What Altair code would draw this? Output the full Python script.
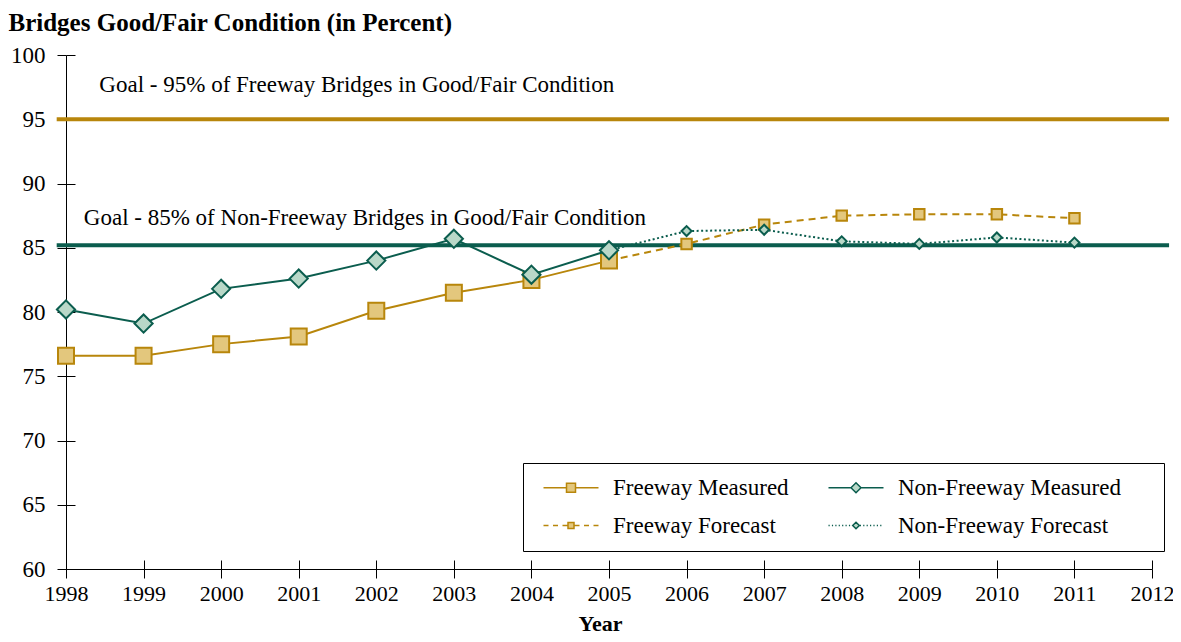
import altair as alt
import pandas as pd

# ---------------- data ----------------
years_measured = [1998, 1999, 2000, 2001, 2002, 2003, 2004, 2005]
freeway_measured = [76.6, 76.6, 77.5, 78.1, 80.1, 81.5, 82.5, 84.0]
nonfreeway_measured = [80.2, 79.1, 81.8, 82.6, 84.0, 85.7, 82.9, 84.8]

years_forecast = [2005, 2006, 2007, 2008, 2009, 2010, 2011]
freeway_forecast = [84.0, 85.3, 86.8, 87.5, 87.6, 87.6, 87.3]
nonfreeway_forecast = [84.8, 86.3, 86.4, 85.5, 85.3, 85.8, 85.4]

goal_values = [95.0, 85.2]
goal_labels = [
    "Goal - 95% of Freeway Bridges in Good/Fair Condition",
    "Goal - 85% of Non-Freeway Bridges in Good/Fair Condition",
]
goal_label_year = [1998.43, 1998.23]
goal_label_value = [97.1, 86.8]
goal_span = [1997.88, 2012.22]

# legend order: column 1 = Freeway, column 2 = Non-Freeway
series_names = ["Freeway Measured", "Freeway Forecast",
                "Non-Freeway Measured", "Non-Freeway Forecast"]

x_ticks = list(range(1998, 2013))
y_ticks = list(range(60, 101, 5))

# ---------------- styles ----------------
FONT = "Liberation Serif"
GOLD = "#B8860B"
GOLD_FILL = "#E3C77D"
TEAL = "#0B5D4E"
TEAL_FILL = "#B9D8C8"

meas = pd.DataFrame({"year": years_measured, "freeway": freeway_measured,
                     "nonfreeway": nonfreeway_measured})
fc = pd.DataFrame({"year": years_forecast, "freeway": freeway_forecast,
                   "nonfreeway": nonfreeway_forecast})
fc_pts = fc[fc["year"] > 2005]
goals = pd.DataFrame({"value": goal_values, "label": goal_labels,
                      "lx": goal_label_year, "ly": goal_label_value,
                      "x0": goal_span[0], "x1": goal_span[1]})
legend_df = pd.DataFrame({"series": series_names, "year": 2000, "value": 70})

xscale = alt.Scale(domain=[1998, 2012], nice=False, zero=False)
yscale = alt.Scale(domain=[60, 100], nice=False, zero=False)

axis_x_main = alt.Axis(values=x_ticks, format="d", labelFontSize=22, labelFont=FONT,
                       labelPadding=5, labelColor="black", labelFlush=False,
                       labelOverlap=False, tickSize=9, tickColor="black",
                       domainColor="black", grid=False, title="Year", titleFont=FONT,
                       titleFontSize=22, titleFontWeight="bold", titleColor="black",
                       titleX=534, titleY=61, titleBaseline="alphabetic", orient="bottom")
axis_x_in = alt.Axis(values=x_ticks, labels=False, domain=False, tickSize=9,
                     tickColor="black", offset=-9, grid=False, title=None, orient="bottom")
axis_y_main = alt.Axis(values=y_ticks, labelFontSize=23, labelFont=FONT, labelPadding=12,
                       labelColor="black", labelFlush=False, labelOverlap=False,
                       tickSize=9, tickColor="black",
                       domainColor="black", grid=False,
                       title="Bridges Good/Fair Condition (in Percent)", titleFont=FONT,
                       titleFontSize=25, titleFontWeight="bold", titleColor="black",
                       titleAngle=0, titleAlign="left", titleBaseline="alphabetic",
                       titleX=-58, titleY=-25, orient="left")
axis_y_in = alt.Axis(values=y_ticks, labels=False, domain=False, tickSize=9,
                     tickColor="black", offset=-9, grid=False, title=None, orient="left")


def X(field, axis=None):
    return alt.X(field, type="quantitative", scale=xscale, axis=axis)


def Y(field, axis=None):
    return alt.Y(field, type="quantitative", scale=yscale, axis=axis)


# goal lines
goal_rules = alt.Chart(goals).mark_rule(strokeWidth=4).encode(
    x=X("x0"), x2="x1", y=Y("value"),
    stroke=alt.condition(alt.datum.value > 90, alt.value(GOLD), alt.value(TEAL)),
)
goal_text = alt.Chart(goals).mark_text(align="left", baseline="alphabetic", font=FONT,
                                       fontSize=23, color="black").encode(
    x=X("lx", axis_x_in), y=Y("ly", axis_y_in), text="label:N")

# freeway
fw_line = alt.Chart(meas).mark_line(color=GOLD, strokeWidth=2).encode(
    x=X("year", axis_x_main), y=Y("freeway", axis_y_main))
fw_fc_line = alt.Chart(fc).mark_line(color=GOLD, strokeWidth=2, strokeDash=[7, 5]).encode(
    x=X("year"), y=Y("freeway"))
fw_pts = alt.Chart(meas).mark_point(shape="square", size=256, filled=True, fill=GOLD_FILL,
                                    stroke=GOLD, strokeWidth=2, opacity=1).encode(
    x=X("year"), y=Y("freeway"))
fw_fc_pts = alt.Chart(fc_pts).mark_point(shape="square", size=110, filled=True,
                                         fill=GOLD_FILL, stroke=GOLD, strokeWidth=2,
                                         opacity=1).encode(x=X("year"), y=Y("freeway"))

# non-freeway
nf_line = alt.Chart(meas).mark_line(color=TEAL, strokeWidth=2).encode(
    x=X("year"), y=Y("nonfreeway"))
nf_fc_line = alt.Chart(fc).mark_line(color=TEAL, strokeWidth=2, strokeDash=[2, 2.5]).encode(
    x=X("year"), y=Y("nonfreeway"))
nf_pts = alt.Chart(meas).mark_point(shape="diamond", size=330, filled=True, fill=TEAL_FILL,
                                    stroke=TEAL, strokeWidth=2, opacity=1).encode(
    x=X("year"), y=Y("nonfreeway"))
nf_fc_pts = alt.Chart(fc_pts).mark_point(shape="diamond", size=100, filled=True,
                                         fill=TEAL_FILL, stroke=TEAL, strokeWidth=2,
                                         opacity=1).encode(x=X("year"), y=Y("nonfreeway"))


# ---------------- legend symbols (line + marker drawn as custom paths) ----------------
def segs(x0, x1, on, off):
    out, x = [], x0
    while x < x1 - 1e-6:
        e = min(x + on, x1)
        out.append(f"M{x:.3f},0H{e:.3f}")
        x = e + off
    return "".join(out)


def sym(kind, h, on, off, reach=None):
    a, b, c = -0.4, 5.1, 2.35
    line = segs(a, c - h - 0.05, on, off) + segs(c + h + 0.05, b, on, off)
    if kind == "square":
        m = f"M{c - h:.3f},{-h:.3f}H{c + h:.3f}V{h:.3f}H{c - h:.3f}Z"
    else:
        m = f"M{c - h:.3f},0L{c:.3f},{-h:.3f}L{c + h:.3f},0L{c:.3f},{h:.3f}Z"
    # an invisible move-to that widens the legend box on the right
    extra = f"M{reach:.2f},0" if reach is not None else ""
    return line + m + extra


paths = [sym("square", 0.45, 100, 0), sym("square", 0.3, 0.5, 0.45),
         sym("diamond", 0.5, 100, 0, 31.5), sym("diamond", 0.33, 0.12, 0.22, 31.5)]

legend = alt.Legend(title=None, orient="none", legendX=457, legendY=408, columns=2,
                    strokeColor="black", padding=13, labelFont=FONT, labelFontSize=23,
                    labelColor="black", labelOffset=54, columnPadding=32, rowPadding=14,
                    symbolSize=400, symbolStrokeWidth=1.5, symbolOpacity=1, labelLimit=0)

legend_layer = alt.Chart(legend_df).transform_filter("false").mark_point(
    filled=True, opacity=1, strokeWidth=1.5).encode(
    x=X("year"), y=Y("value"),
    shape=alt.Shape("series:N", scale=alt.Scale(domain=series_names, range=paths), legend=legend),
    fill=alt.Fill("series:N", scale=alt.Scale(domain=series_names,
                                              range=[GOLD_FILL, GOLD_FILL, TEAL_FILL, TEAL_FILL]),
                  legend=legend),
    stroke=alt.Stroke("series:N", scale=alt.Scale(domain=series_names,
                                                  range=[GOLD, GOLD, TEAL, TEAL]),
                      legend=legend),
)

chart = alt.layer(
    goal_rules, goal_text, fw_line, fw_fc_line, fw_pts, fw_fc_pts,
    nf_line, nf_fc_line, nf_pts, nf_fc_pts, legend_layer
).resolve_axis(x="independent", y="independent").properties(
    width=1086, height=514, autosize="none",
    padding={"left": 58, "top": 47, "right": 21, "bottom": 65},
).configure(font=FONT).configure_view(stroke=None)

chart.save("out.html", embed_options={"renderer": "svg", "actions": False})
